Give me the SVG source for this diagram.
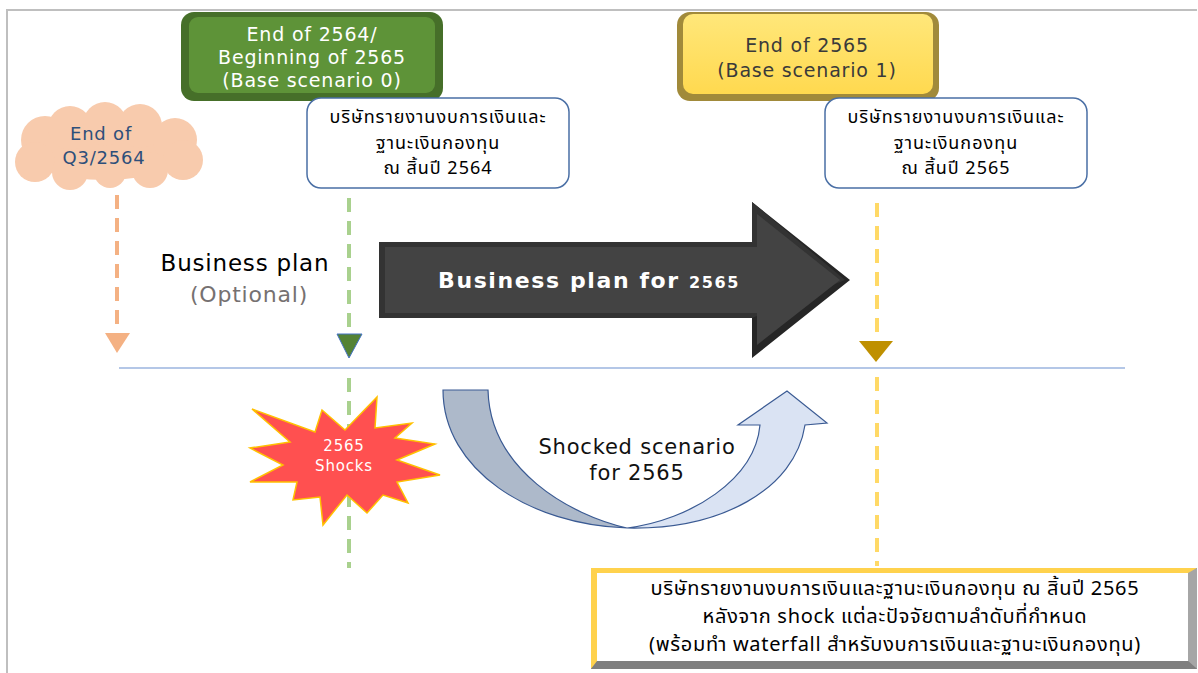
<svg xmlns="http://www.w3.org/2000/svg" width="1198" height="673" viewBox="0 0 1198 673">
<defs>
<style>
.lat{font-family:"DejaVu Sans","Noto Sans",sans-serif;letter-spacing:0.8px}
.th{font-family:"Noto Sans","Noto Sans Thai","Loma","Tlwg Typo",sans-serif;font-size:18px;fill:#000;text-anchor:middle;letter-spacing:1px}
.thb{font-size:20px;letter-spacing:0.7px}
.dash{fill:none;stroke-width:4;stroke-dasharray:14 9}
.wbox{fill:#fff;stroke:#4a6fa5;stroke-width:1.5}
</style>
<linearGradient id="yel" x1="0" y1="0" x2="0" y2="1">
<stop offset="0" stop-color="#ffe77a"/><stop offset="1" stop-color="#ffd94f"/>
</linearGradient>
</defs>
<rect width="1198" height="673" fill="#fff"/>
<path d="M7,673 L7,10 L1197,10" fill="none" stroke="#bfbfbf" stroke-width="2"/>

<g id="connectors">
<path class="dash" stroke="#f4b183" d="M117,195 L117,325"/>
<path class="dash" stroke="#a9d18e" d="M349,198 L349,330"/>
<path class="dash" stroke="#a9d18e" d="M349,378 L349,568"/>
<path class="dash" stroke="#ffd966" d="M877,203 L877,332"/>
<path class="dash" stroke="#ffd966" d="M877,377 L877,566"/>
<polygon points="105,333 130,333 117,353" fill="#f4b183"/>
<polygon points="337,334 362,334 349,358" fill="#548235" stroke="#4472c4" stroke-width="1"/>
<polygon points="859,341 893,341 876,362" fill="#bf9000"/>
<line x1="119" y1="368" x2="1125" y2="368" stroke="#b4c7e7" stroke-width="2"/>
</g>

<g id="cloud" fill="#f8cbad">
<ellipse cx="105" cy="150" rx="80" ry="30"/>
<circle cx="45" cy="140" r="24"/>
<circle cx="35" cy="162" r="20"/>
<circle cx="70" cy="128" r="22"/>
<circle cx="105" cy="124" r="22"/>
<circle cx="140" cy="126" r="22"/>
<circle cx="175" cy="140" r="22"/>
<circle cx="183" cy="160" r="20"/>
<circle cx="150" cy="170" r="18"/>
<circle cx="110" cy="172" r="16"/>
<circle cx="70" cy="172" r="18"/>
<text class="lat" x="101" y="140" font-size="18" fill="#2e4f7a" text-anchor="middle" letter-spacing="1.2">End of</text>
<text class="lat" x="104" y="164" font-size="18" fill="#2e4f7a" text-anchor="middle" letter-spacing="1.2">Q3/2564</text>
</g>

<g id="green-box">
<rect x="181" y="12" width="262" height="89" rx="13" fill="#466f29"/>
<rect x="189" y="17" width="246" height="76" rx="9" fill="#5e9338"/>
<text class="lat" x="312" y="41" font-size="19" fill="#fff" text-anchor="middle">End of 2564/</text>
<text class="lat" x="312" y="64" font-size="19" fill="#fff" text-anchor="middle">Beginning of 2565</text>
<text class="lat" x="312" y="87" font-size="19" fill="#fff" text-anchor="middle">(Base scenario 0)</text>
</g>

<g id="yellow-box">
<rect x="677" y="12" width="262" height="89" rx="13" fill="#a18a3a"/>
<rect x="683" y="14" width="250" height="80" rx="10" fill="url(#yel)"/>
<text class="lat" x="807" y="52" font-size="19" fill="#3a3a3a" text-anchor="middle">End of 2565</text>
<text class="lat" x="807" y="77" font-size="19" fill="#3a3a3a" text-anchor="middle">(Base scenario 1)</text>
</g>

<g id="report-2564">
<rect class="wbox" x="307" y="98" width="262" height="90" rx="14"/>
<text class="th" x="438" y="123">บริษัทรายงานงบการเงินและ</text>
<text class="th" x="438" y="149">ฐานะเงินกองทุน</text>
<text class="th" x="438" y="174">ณ สิ้นปี 2564</text>
</g>

<g id="report-2565">
<rect class="wbox" x="825" y="98" width="262" height="90" rx="14"/>
<text class="th" x="956" y="123">บริษัทรายงานงบการเงินและ</text>
<text class="th" x="956" y="149">ฐานะเงินกองทุน</text>
<text class="th" x="956" y="174">ณ สิ้นปี 2565</text>
</g>

<g id="business-plan-label">
<text class="lat" x="245" y="271" font-size="23" fill="#000" text-anchor="middle" letter-spacing="1.5">Business plan</text>
<text class="lat" x="249" y="302" font-size="22" fill="#767171" text-anchor="middle" letter-spacing="2">(Optional)</text>
</g>

<g id="big-arrow">
<polygon points="379,242 752,242 752,202 850,280 752,358 752,318 379,318" fill="#262626"/>
<polygon points="379,242 752,242 752,202 845,280 752,318 379,318" fill="#333"/>
<polygon points="385,247 757,247 757,214 840,280 757,345 757,313 385,313" fill="#434343"/>
<text x="589" y="288" font-family="'DejaVu Sans',sans-serif" font-weight="bold" font-size="22" fill="#fff" text-anchor="middle" letter-spacing="1.6">Business plan for <tspan font-size="16">2565</tspan></text>
</g>

<g id="shocks">
<polygon points="252,409 315,432 322,410 345,430 377,397 375,428 412,423 395,438 435,444 397,460 440,475 397,482 408,503 383,495 367,513 347,495 323,525 320,497 293,500 297,482 250,482 283,465 250,448 290,442" fill="#ff5050" stroke="#ffc000" stroke-width="1.5" stroke-linejoin="miter"/>
<text class="lat" x="344" y="451" font-size="15" fill="#fff" text-anchor="middle" letter-spacing="1">2565</text>
<text class="lat" x="344" y="471" font-size="15" fill="#fff" text-anchor="middle" letter-spacing="1">Shocks</text>
</g>

<g id="shocked-arrow">
<path d="M443,390 L488,390 C490,470 570,515 627,528 C530,525 443,470 443,390 Z" fill="#adb9ca" stroke="#3a5a93" stroke-width="1.2"/>
<path d="M627,528 C690,520 755,480 760,425 L738,425 L787,391 L827,423 L805,425 C795,490 720,530 627,528 Z" fill="#dae3f3" stroke="#3a5a93" stroke-width="1.2"/>
<text class="lat" x="637" y="454" font-size="21" fill="#111" text-anchor="middle" letter-spacing="1">Shocked scenario</text>
<text class="lat" x="637" y="480" font-size="21" fill="#111" text-anchor="middle" letter-spacing="1">for 2565</text>
</g>

<g id="bottom-box">
<rect x="591" y="568" width="606" height="101" fill="#8c8c8c"/>
<polygon points="591,568 1197,568 1190,573 597,573 597,662 591,669" fill="#ffd24d"/>
<polygon points="1197,568 1197,669 1188,661 1188,573" fill="#a6a6a6"/>
<polygon points="591,669 1197,669 1188,661 597,661" fill="#7f7f7f"/>
<rect x="597" y="573" width="591" height="88" fill="#fff"/>
<text class="th thb" x="895" y="595">บริษัทรายงานงบการเงินและฐานะเงินกองทุน ณ สิ้นปี 2565</text>
<text class="th thb" x="895" y="623">หลังจาก shock แต่ละปัจจัยตามลำดับที่กำหนด</text>
<text class="th thb" x="895" y="651">(พร้อมทำ waterfall สำหรับงบการเงินและฐานะเงินกองทุน)</text>
</g>
</svg>
